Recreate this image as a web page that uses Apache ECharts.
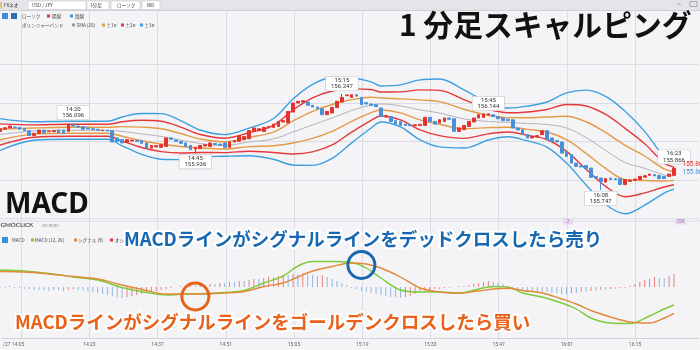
<!DOCTYPE html>
<html>
<head>
<meta charset="utf-8">
<script src="https://cdn.jsdelivr.net/npm/echarts@6/dist/echarts.min.js"></script>
<style>
  html, body { margin: 0; padding: 0; background: #f4f4f7; }
  #c { width: 700px; height: 350px; }
</style>
</head>
<body>
<div id="c"></div>
<script>
// ---------- time axis (1-minute bars) ----------
const firstMinute = 14 * 60 + 5;      // 14:05
const minuteCount = 144;              // 14:05 .. 16:28
const minutes = [];
for (let k = 0; k < minuteCount; k++) {
  const t = firstMinute + k;
  minutes.push(Math.floor(t / 60) + ':' + String(t % 60).padStart(2, '0'));
}
// vertical grid every 14 bars; the first label carries the date
const gridTimes  = ['14:09', '14:23', '14:37', '14:51', '15:05', '15:19', '15:33', '15:47', '16:01', '16:15'];
const labelTimes = ['14:05', '14:23', '14:37', '14:51', '15:05', '15:19', '15:33', '15:47', '16:01', '16:15'];
const labelTexts = ['/27 14:05', '14:23', '14:37', '14:51', '15:05', '15:19', '15:33', '15:47', '16:01', '16:15'];

// ---------- USD/JPY 1-minute candles (14:05 .. 16:23) ----------
const opens = [
  156.052,156.064,156.070,156.075,156.073,156.066,156.056,156.031,156.042,156.059,
  156.051,156.051,156.059,156.058,156.052,156.087,156.080,156.077,156.070,156.066,
  156.063,156.056,156.058,156.056,156.018,156.009,155.995,156.002,156.005,156.004,
  155.992,155.965,155.971,155.969,155.974,156.018,156.007,156.000,155.992,155.979,
  155.960,155.962,155.976,155.974,155.990,155.986,155.992,155.969,155.997,156.000,
  156.009,156.014,156.052,156.056,156.052,156.070,156.073,156.078,156.101,156.096,
  156.153,156.200,156.205,156.205,156.188,156.179,156.170,156.139,156.148,156.177,
  156.205,156.238,156.229,156.243,156.229,156.202,156.195,156.191,156.174,156.127,
  156.130,156.108,156.104,156.090,156.087,156.082,156.083,156.083,156.125,156.104,
  156.096,156.104,156.122,156.118,156.052,156.061,156.078,156.101,156.122,156.125,
  156.137,156.139,156.130,156.122,156.115,156.113,156.070,156.061,156.035,156.018,
  156.023,156.035,156.056,156.018,156.004,155.997,155.948,155.931,155.887,155.873,
  155.875,155.861,155.816,155.809,155.788,155.809,155.806,155.806,155.775,155.792,
  155.797,155.801,155.814,155.823,155.827,155.823,155.818,155.818,155.823
];
const closes = [
  156.066,156.071,156.080,156.071,156.063,156.056,156.031,156.042,156.059,156.045,
  156.054,156.056,156.045,156.042,156.090,156.080,156.075,156.063,156.065,156.061,
  156.058,156.059,156.054,155.997,156.000,155.992,156.009,156.007,156.000,155.990,
  155.965,155.979,155.978,155.983,156.018,156.011,156.000,155.990,155.974,155.957,
  155.969,155.979,155.983,155.992,155.983,155.979,155.969,155.997,156.004,156.030,
  156.026,156.056,156.070,156.066,156.073,156.077,156.090,156.104,156.108,156.156,
  156.200,156.209,156.212,156.188,156.179,156.170,156.139,156.156,156.177,156.209,
  156.229,156.242,156.243,156.236,156.191,156.195,156.188,156.181,156.130,156.134,
  156.104,156.090,156.083,156.083,156.082,156.087,156.089,156.125,156.104,156.090,
  156.113,156.122,156.115,156.052,156.070,156.083,156.104,156.122,156.139,156.143,
  156.144,156.130,156.118,156.108,156.108,156.070,156.059,156.035,156.018,156.025,
  156.030,156.056,156.009,156.000,155.997,155.939,155.922,155.887,155.870,155.867,
  155.858,155.813,155.809,155.792,155.806,155.802,155.801,155.775,155.801,155.799,
  155.804,155.818,155.821,155.830,155.820,155.806,155.806,155.830,155.861
];

// labelled highs / lows
const markTimes  = ['14:20', '14:45', '15:15', '15:45', '16:08', '16:23'];
const markPrices = [156.096, 155.936, 156.247, 156.144, 155.747, 155.866];
const markKinds  = ['high', 'low', 'high', 'high', 'low', 'high'];

// ---------- Bollinger band (SMA 20 and its standard deviation) ----------
const bbIdx = [0,7,14,22,25,29,33,37,41,46,51,56,60,64,68,72,76,78,82,86,90,95,100,104,108,112,116,120,124,128,132,136,138];
const bbMid = [156.036,156.054,156.058,156.058,156.052,156.039,156.026,156.007,155.989,155.979,155.997,156.013,156.049,156.086,156.122,156.161,156.190,156.195,156.185,156.164,156.148,156.117,156.104,156.099,156.093,156.088,156.070,156.020,155.953,155.890,155.860,155.825,155.820];
const bbSd  = [0.0276,0.0161,0.0156,0.0156,0.025,0.0354,0.0396,0.0339,0.0234,0.0188,0.024,0.0354,0.0573,0.0703,0.0703,0.0563,0.0401,0.0313,0.0365,0.0521,0.0589,0.0505,0.0323,0.025,0.0302,0.0391,0.0609,0.0823,0.0938,0.0890,0.0640,0.0313,0.0229];

// ---------- MACD (12, 26) / signal (9) ----------
const macdIdx    = [0,5,10,15,20,25,30,34,38,42,46,50,54,58,61,64,68,72,75,78,82,86,90,94,98,101,104,107,111,115,118,121,125,129,133,136,138];
const macdLine   = [0.017,0.016,0.0135,0.010,0.007,-0.0005,-0.0055,-0.008,-0.007,-0.0065,-0.0055,-0.0035,0.004,0.011,0.021,0.0255,0.0255,0.0245,0.019,0.009,-0.003,-0.005,-0.005,-0.006,-0.002,0.0005,0,-0.006,-0.010,-0.016,-0.022,-0.031,-0.036,-0.0365,-0.029,-0.022,-0.018];
const signalLine = [0.0155,0.015,0.013,0.0105,0.008,0.002,-0.0035,-0.007,-0.007,-0.007,-0.006,-0.0045,0.0005,0.004,0.010,0.016,0.0205,0.024,0.023,0.019,0.010,-0.001,-0.005,-0.0063,-0.004,-0.002,-0.0013,-0.0035,-0.006,-0.012,-0.017,-0.0235,-0.030,-0.035,-0.036,-0.031,-0.0263];
const histogram = [
  0.001,-0.001,0.001,-0.001,-0.001,-0.002,-0.002,-0.003,-0.003,-0.003,
  -0.004,-0.003,-0.003,-0.004,-0.003,-0.002,-0.003,-0.003,-0.004,-0.005,
  -0.006,-0.007,-0.008,-0.009,-0.010,-0.011,-0.010,-0.009,-0.008,-0.007,
  -0.006,-0.005,-0.004,-0.003,-0.002,-0.001,0.000,0.001,0.001,0.002,
  0.002,0.003,0.002,0.003,0.003,0.004,0.004,0.005,0.005,0.006,
  0.006,0.007,0.008,0.008,0.009,0.010,0.010,0.011,0.012,0.012,
  0.013,0.013,0.014,0.013,0.012,0.011,0.012,0.010,0.008,0.006,
  0.004,0.002,-0.001,-0.002,-0.004,-0.005,-0.006,-0.007,-0.008,-0.009,
  -0.010,-0.010,-0.011,-0.010,-0.009,-0.007,-0.005,-0.004,-0.003,-0.002,
  -0.002,-0.001,-0.001,0.000,0.001,0.001,0.002,0.003,0.004,0.005,
  0.006,0.005,0.004,0.003,0.001,-0.001,-0.002,-0.003,-0.003,-0.004,
  -0.004,-0.005,-0.005,-0.006,-0.006,-0.007,-0.007,-0.006,-0.006,-0.005,
  -0.005,-0.004,-0.004,-0.003,-0.003,-0.002,-0.002,-0.001,-0.001,0.001,
  0.003,0.005,0.007,0.008,0.010,0.009,0.009,0.011,0.013
];
// crossings highlighted on the MACD panel
const crossTimes  = ['14:45', '15:19'];
const crossValues = [-0.0095, 0.022];
const crossKinds  = ['golden', 'dead'];

// ---------- colours ----------
const UP = '#e3332d', DOWN = '#4a90d9';
const BAND = { sma: '#b4b4b8', s1: '#e59a45', s2: '#e5383b', s3: '#3e9fe0' };
const MACD_C = '#7dcb3a', SIG_C = '#e2893a';
const ANN_BLUE = '#1768b0', ANN_ORANGE = '#e8621c';
const GRID_C = '#dcdce2';
const JP = '"Noto Sans CJK JP", "Noto Sans", sans-serif';

// ---------- build series data ----------
const candleData = opens.map((o, i) => {
  const c = closes[i];
  let lo = Math.min(o, c), hi = Math.max(o, c);
  const m = markTimes.indexOf(minutes[i]);
  if (m >= 0) {
    if (markKinds[m] === 'high') hi = Math.max(hi, markPrices[m]);
    else lo = Math.min(lo, markPrices[m]);
  }
  return [o, c, lo, hi];
});

function bandSeries(name, k, color, width) {
  return {
    name, type: 'line', xAxisIndex: 1, yAxisIndex: 1,
    data: bbIdx.map((ix, j) => [ix, +(bbMid[j] + k * bbSd[j]).toFixed(4)]),
    smooth: 0.35, symbol: 'none', clip: false, z: 2,
    lineStyle: { color, width }
  };
}

const histData = histogram.map((v, i) => ({
  value: v,
  itemStyle: { color: (i === 0 || v > histogram[i - 1]) ? UP : DOWN, opacity: 0.6 }
}));

const isGrid  = (idx, val) => gridTimes.indexOf(val) >= 0;
const isLabel = (idx, val) => labelTimes.indexOf(val) >= 0;

// ---------- header, legends and notes ----------
function txt(x, y, s, size, fill, extra) {
  return Object.assign({
    type: 'text', z: 50,
    style: Object.assign({ text: s, x, y, fill, font: size + 'px ' + JP, verticalAlign: 'middle', align: 'left' }, extra && extra.style)
  }, extra && extra.el);
}
function box(x, y, w, h, fill, stroke) {
  return { type: 'rect', z: 40, shape: { x, y, width: w, height: h }, style: { fill, stroke: stroke || null, lineWidth: stroke ? 0.6 : 0 } };
}

const graphics = [
  // toolbar
  box(0, 0, 700, 10.5, '#e4e4e9'),
  { type: 'line', z: 41, shape: { x1: 0, y1: 10.5, x2: 700, y2: 10.5 }, style: { stroke: '#cfcfd6', lineWidth: 1 } },
  box(0.5, 2, 1.2, 6.5, '#f0a020'),
  txt(4, 5.5, 'FXネオ', 4.6, '#333'),
  box(28, 1, 58, 8.5, '#fff', '#c8c8d0'),
  txt(32, 5.5, 'USD / JPY', 4.6, '#333'),
  box(87, 1, 22, 8.5, '#fff', '#c8c8d0'),
  txt(90, 5.5, '1分足', 4.6, '#333'),
  box(111, 1, 29, 8.5, '#fff', '#c8c8d0'),
  txt(117, 5.5, 'ローソク', 4.6, '#333'),
  box(142, 1, 18, 8.5, '#fff', '#c8c8d0'),
  txt(147, 5.5, 'BID', 4.6, '#333'),
  txt(677, 4, '∿', 5, '#777'),
  box(690, 1.5, 7, 5, 'none', '#888'),

  // candle / band legend
  box(2, 13, 6, 6, '#3b8fd9'),
  box(11, 13, 6, 6, '#2f6fb0'),
  txt(22, 16, 'ローソク', 4.6, '#444'),
  box(47, 14.5, 3, 3, UP),
  txt(52, 16, '陽線', 4.6, '#444'),
  box(70, 14.5, 3, 3, DOWN),
  txt(75, 16, '陰線', 4.6, '#444'),
  txt(22, 25, 'ボリンジャーバンド', 4.6, '#444'),
  box(72, 23.5, 3, 3, '#999'),
  txt(76.5, 25, 'SMA (20)', 4.6, '#444'),
  box(102, 23.5, 3, 3, BAND.s1),
  txt(106.5, 25, '±1σ', 4.6, '#444'),
  box(121, 23.5, 3, 3, BAND.s2),
  txt(125.5, 25, '±2σ', 4.6, '#444'),
  box(140, 23.5, 3, 3, BAND.s3),
  txt(144.5, 25, '±3σ', 4.6, '#444'),

  // panel separator, event badges
  { type: 'line', z: 1, shape: { x1: 0, y1: 221, x2: 700, y2: 221 }, style: { stroke: GRID_C, lineWidth: 1 } },
  box(563, 218, 10, 6.5, '#e8d9ef'),
  txt(568, 221.3, '2', 4.6, '#9a68b3', { style: { align: 'center' } }),
  box(675, 218, 11, 6.5, '#e8d9ef'),
  txt(680.5, 221.3, '154', 4.6, '#9a68b3', { style: { align: 'center' } }),

  // broker logo
  txt(0.5, 225.5, 'GMOCLICK', 6.2, '#555', { style: { font: 'bold 6.2px Lato, "Noto Sans", sans-serif' } }),
  txt(42, 225.8, 'SECURITIES', 3, '#888', { style: { font: '3px "Noto Sans", sans-serif' } }),

  // MACD legend
  box(2, 237, 6, 6, '#3b8fd9'),
  txt(12, 240, 'MACD', 4.6, '#444'),
  box(31, 238.5, 3, 3, MACD_C),
  txt(35, 240, 'MACD (12, 26)', 4.6, '#444'),
  box(74, 238.5, 3, 3, SIG_C),
  txt(78, 240, 'シグナル (9)', 4.6, '#444'),
  box(110, 238.5, 3, 3, UP),
  txt(115, 240, 'オシレーター', 4.6, '#444'),

  // headings
  txt(399, 25, '1 分足スキャルピング', 29.8, '#111', { style: { font: 'bold 29.8px ' + JP } }),
  txt(5, 205.5, 'MACD', 28, '#111', { style: { font: 'bold 28px "Noto Sans", ' + JP } }),

  // notes
  txt(124, 238.5, 'MACDラインがシグナルラインをデッドクロスしたら売り', 18.5, ANN_BLUE,
      { style: { font: 'bold 18.5px ' + JP, stroke: '#fff', lineWidth: 4 } }),
  txt(15, 321.5, 'MACDラインがシグナルラインをゴールデンクロスしたら買い', 18.5, ANN_ORANGE,
      { style: { font: 'bold 18.5px ' + JP, stroke: '#fff', lineWidth: 4 } })
];

// ---------- chart ----------
const chart = echarts.init(document.getElementById('c'), null, { renderer: 'canvas' });
const plotWidth = 698.4;

chart.setOption({
  backgroundColor: '#f4f4f7',
  animation: false,
  grid: [
    { left: 0, width: plotWidth, top: 11, height: 327 },
    { left: 0, width: plotWidth, top: 64.6, height: 153.6 },
    { left: 0, width: plotWidth, top: 245, height: 88 }
  ],
  xAxis: [
    {
      gridIndex: 0, type: 'category', data: minutes, boundaryGap: false,
      axisLine: { show: true, lineStyle: { color: '#d2d2d8' } },
      axisTick: { show: false },
      axisLabel: {
        interval: isLabel, margin: 4, fontSize: 5, color: '#666', fontFamily: 'Roboto, sans-serif',
        formatter: (v, idx) => idx === 0
          ? '{first|' + labelTexts[0] + '}'
          : labelTexts[labelTimes.indexOf(v)],
        rich: { first: { fontSize: 5, color: '#666', fontFamily: 'Roboto, sans-serif', padding: [0, 0, 0, 24] } }
      },
      splitLine: { show: true, interval: isGrid, lineStyle: { color: GRID_C, width: 1 } }
    },
    { gridIndex: 1, type: 'category', data: minutes, boundaryGap: false, show: false },
    { gridIndex: 2, type: 'category', data: minutes, boundaryGap: false, show: false }
  ],
  yAxis: [
    { gridIndex: 0, type: 'value', min: 0, max: 1, show: false },
    {
      gridIndex: 1, type: 'value', min: 155.6, max: 156.4, interval: 0.2, scale: true,
      axisLine: { show: false }, axisTick: { show: false }, axisLabel: { show: false },
      splitLine: { show: true, lineStyle: { color: GRID_C, width: 1 } }
    },
    { gridIndex: 2, type: 'value', min: -0.046, max: 0.042, show: false }
  ],
  graphic: graphics,
  series: [
    bandSeries('SMA (20)', 0, BAND.sma, 1),
    bandSeries('+1σ', 1, BAND.s1, 1.4),
    bandSeries('-1σ', -1, BAND.s1, 1.4),
    bandSeries('+2σ', 2, BAND.s2, 1.4),
    bandSeries('-2σ', -2, BAND.s2, 1.4),
    bandSeries('+3σ', 3, BAND.s3, 1.4),
    bandSeries('-3σ', -3, BAND.s3, 1.4),
    {
      name: 'ローソク', type: 'candlestick', xAxisIndex: 1, yAxisIndex: 1, z: 5,
      data: candleData, barWidth: 3.2, clip: false,
      itemStyle: { color: UP, color0: DOWN, borderColor: UP, borderColor0: DOWN, borderWidth: 1 },
      markPoint: {
        symbol: 'rect', symbolSize: 1, itemStyle: { color: 'rgba(0,0,0,0)' },
        label: {
          show: true, formatter: '{b}', fontSize: 6, lineHeight: 6.2, color: '#333',
          fontFamily: 'Roboto, sans-serif', backgroundColor: '#fff', borderColor: '#c4c4cc',
          borderWidth: 0.6, padding: [0.5, 5]
        },
        data: markTimes.map((t, j) => ({
          name: t + '\n' + markPrices[j].toFixed(3),
          coord: [t, markPrices[j]],
          label: markKinds[j] === 'high' ? { position: 'top', distance: 3 } : { position: 'bottom', distance: 1 }
        })).concat([
          {
            name: markPrices[5].toFixed(3),
            coord: [markTimes[5], markPrices[5]],
            label: { position: 'right', distance: 8, offset: [0, -3], backgroundColor: 'transparent', borderWidth: 0, padding: 0, color: UP, fontSize: 6.5 }
          },
          {
            name: closes[closes.length - 1].toFixed(3),
            coord: [markTimes[5], closes[closes.length - 1]],
            label: { position: 'right', distance: 8, offset: [0, 4], backgroundColor: 'transparent', borderWidth: 0, padding: 0, color: DOWN, fontSize: 6.5 }
          }
        ])
      }
    },
    {
      name: 'オシレーター', type: 'bar', xAxisIndex: 2, yAxisIndex: 2, z: 2,
      data: histData, barWidth: 1
    },
    {
      name: 'MACD (12, 26)', type: 'line', xAxisIndex: 2, yAxisIndex: 2, z: 3,
      data: macdIdx.map((ix, j) => [ix, macdLine[j]]),
      smooth: 0.35, symbol: 'none', clip: false,
      lineStyle: { color: MACD_C, width: 1.4 },
      markPoint: {
        symbol: 'circle', symbolSize: 27, silent: true,
        label: { show: false },
        data: crossTimes.map((t, j) => ({
          coord: [t, crossValues[j]],
          itemStyle: {
            color: 'rgba(0,0,0,0)',
            borderColor: crossKinds[j] === 'golden' ? ANN_ORANGE : ANN_BLUE,
            borderWidth: 3
          }
        }))
      }
    },
    {
      name: 'シグナル (9)', type: 'line', xAxisIndex: 2, yAxisIndex: 2, z: 3,
      data: macdIdx.map((ix, j) => [ix, signalLine[j]]),
      smooth: 0.35, symbol: 'none', clip: false,
      lineStyle: { color: SIG_C, width: 1.4 }
    }
  ]
});
</script>
</body>
</html>
